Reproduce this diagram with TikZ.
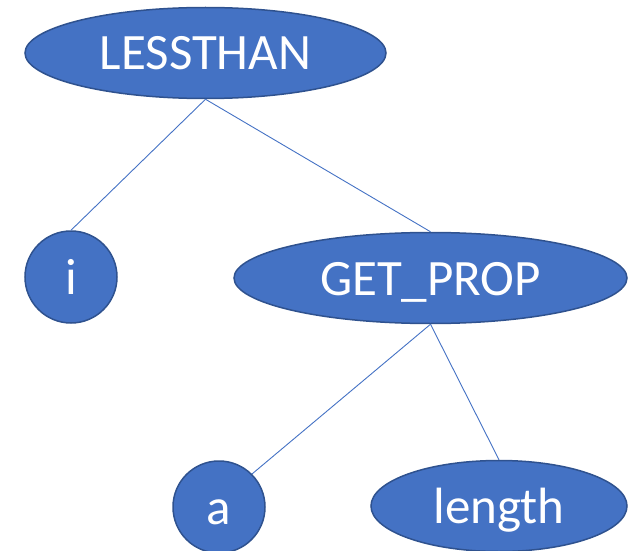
\documentclass[tikz,border=0pt]{standalone}
\usepackage{fontspec}
\setmainfont{Carlito}
\usetikzlibrary{shapes.geometric}

\definecolor{bleu}{HTML}{4472C4}
\definecolor{bleufonce}{HTML}{2F528F}

\begin{document}
\begin{tikzpicture}[x=1pt, y=-1pt,
	noeud/.style={ellipse, draw=bleufonce, line width=1.5pt, fill=bleu, text=white, inner sep=0pt, text height=34pt, text depth=0pt, font=\fontsize{51}{51}\selectfont},
	feuille/.style={noeud, circle, minimum size=92pt},
	lien/.style={draw=bleu, line width=0.9pt}]

	\useasboundingbox (0, 0) rectangle (635, 551);

	\def\hy{91} % hauteur des ellipses

	\node[noeud, minimum width=361pt, minimum height=\hy pt] (lessthan) at (205.5, 53) {LESSTHAN};
	\node[feuille] (i) at (71, 277) {i};
	\node[noeud, minimum width=393pt, minimum height=\hy pt] (getprop) at (430.5, 278) {GET\_PROP};
	\node[feuille] (a) at (219, 507) {a};
	\node[noeud, minimum width=256pt, minimum height=\hy pt] (length) at (499, 506) {length};

	% liens pere -> fils
	\foreach \p/\f in {lessthan.south/i.north, lessthan.south/getprop.north, getprop.south/a.north east, getprop.south/length.north} {
		\draw[lien] (\p) -- (\f);
	}

\end{tikzpicture}
\end{document}
